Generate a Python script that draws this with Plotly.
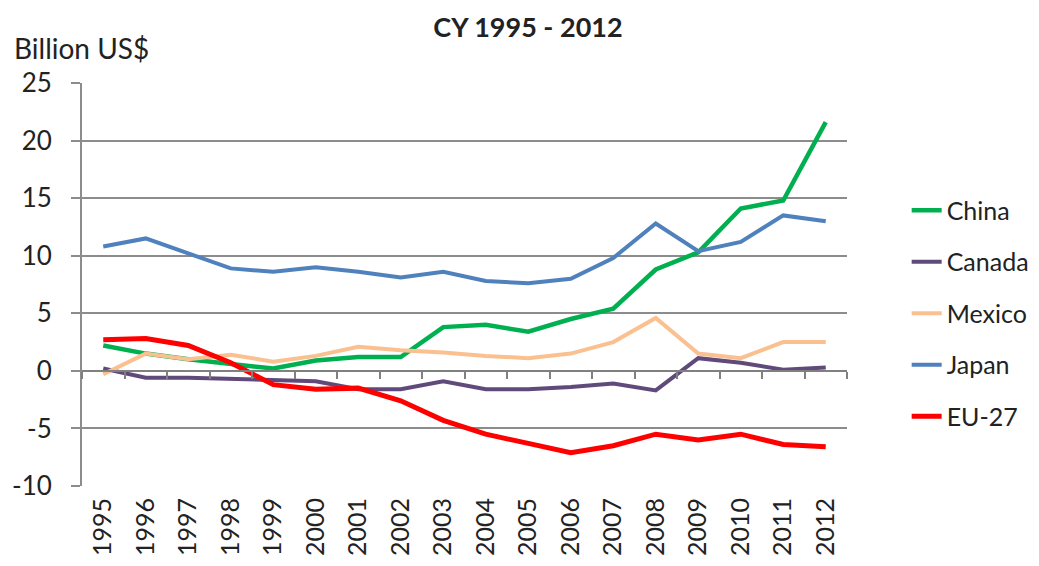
import plotly.graph_objects as go

# Anni e saldo commerciale (miliardi US$)
anni = [str(a) for a in range(1995, 2013)]
china = [2.2, 1.5, 1.0, 0.6, 0.2, 0.9, 1.2, 1.2, 3.8, 4.0, 3.4, 4.5, 5.4, 8.8, 10.3, 14.1, 14.8, 21.6]
canada = [0.2, -0.6, -0.6, -0.7, -0.8, -0.9, -1.6, -1.6, -0.9, -1.6, -1.6, -1.4, -1.1, -1.7, 1.1, 0.7, 0.1, 0.3]
mexico = [-0.3, 1.5, 1.0, 1.4, 0.8, 1.3, 2.1, 1.8, 1.6, 1.3, 1.1, 1.5, 2.5, 4.6, 1.5, 1.1, 2.5, 2.5]
japan = [10.8, 11.5, 10.2, 8.9, 8.6, 9.0, 8.6, 8.1, 8.6, 7.8, 7.6, 8.0, 9.8, 12.8, 10.4, 11.2, 13.5, 13.0]
eu27 = [2.7, 2.8, 2.2, 0.7, -1.2, -1.6, -1.5, -2.6, -4.3, -5.5, -6.3, -7.1, -6.5, -5.5, -6.0, -5.5, -6.4, -6.6]

y_tick = [-10, -5, 0, 5, 10, 15, 20, 25]
y_tick_testo = ["-10", "-5", "0", "5", "10", "15", "20", "25"]

serie = [
    ("China", china, "#00B050", 4.5),
    ("Canada", canada, "#604A7B", 4),
    ("Mexico", mexico, "#FAC090", 4),
    ("Japan", japan, "#4F81BD", 4),
    ("EU-27", eu27, "#FF0000", 5),
]

y_min, y_max = -10, 25
font_nome = "Lato, Open Sans, sans-serif"

fig = go.Figure()

for nome, valori, colore, spessore in serie:
    fig.add_trace(go.Scatter(
        x=anni,
        y=valori,
        name=nome,
        mode="lines",
        legendgroup=nome,
        line=dict(color=colore, width=spessore),
    ))

# asse fittizio sullo zero con le tacche tra le categorie
fig.add_trace(go.Scatter(
    x=anni, y=[None] * len(anni), xaxis="x2",
    showlegend=False, hoverinfo="skip",
))

fig.update_layout(
    width=1039,
    height=566,
    margin=dict(l=74, r=200, t=75, b=88),
    paper_bgcolor="white",
    plot_bgcolor="white",
    font=dict(family=font_nome, size=26, color="#222222"),
    title=dict(
        text="<b>CY 1995 - 2012</b>",
        x=0.5005,
        y=0.966,
        xanchor="center",
        yanchor="middle",
        font=dict(size=27),
    ),
    showlegend=True,
    legend=dict(
        x=1.078,
        y=0.741,
        xanchor="left",
        yanchor="top",
        tracegroupgap=16,
        font=dict(size=25),
        bgcolor="rgba(0,0,0,0)",
    ),
    xaxis=dict(
        type="category",
        range=[-0.5, len(anni) - 0.5],
        showline=False,
        showgrid=False,
        ticks="",
        tickangle=-90,
        tickfont=dict(size=25),
        ticklabelstandoff=6,
        zeroline=False,
        automargin=False,
    ),
    xaxis2=dict(
        type="category",
        overlaying="x",
        matches="x",
        anchor="free",
        position=(0 - y_min) / (y_max - y_min),
        showline=True,
        linecolor="#808080",
        linewidth=2,
        ticks="outside",
        tickson="boundaries",
        ticklen=7,
        tickcolor="#808080",
        tickwidth=1.5,
        showticklabels=False,
        showgrid=False,
        side="bottom",
        automargin=False,
    ),
    yaxis=dict(
        range=[y_min, y_max],
        tickvals=y_tick,
        ticktext=y_tick_testo,
        showgrid=True,
        gridcolor="#8C8C8C",
        gridwidth=2,
        showline=True,
        linecolor="#8C8C8C",
        linewidth=2,
        ticks="outside",
        ticklen=9,
        tickcolor="#8C8C8C",
        tickwidth=2,
        ticklabelstandoff=14,
        tickfont=dict(size=26),
        zeroline=False,
        automargin=False,
    ),
    annotations=[
        dict(
            text="Billion US$",
            xref="paper",
            yref="paper",
            x=-0.092,
            y=1.087,
            xanchor="left",
            yanchor="middle",
            showarrow=False,
            font=dict(size=28),
        )
    ],
)

fig.write_html("out.html")
